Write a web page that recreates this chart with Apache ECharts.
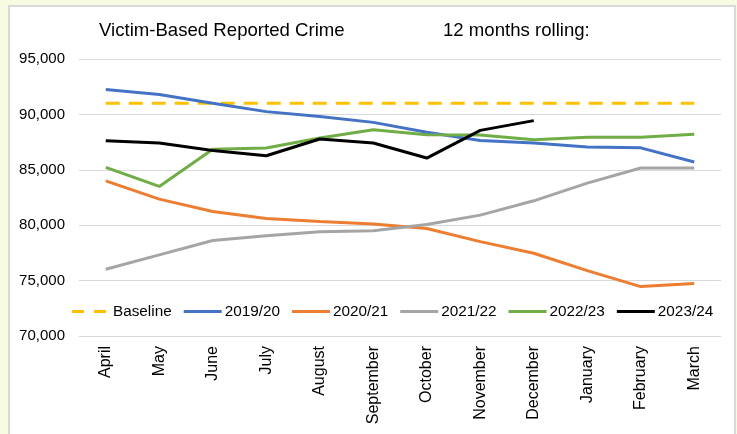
<!DOCTYPE html>
<html><head><meta charset="utf-8">
<script src="https://cdn.jsdelivr.net/npm/echarts@6/dist/echarts.min.js"></script>
<style>html,body{margin:0;padding:0;background:#F6FBE2;}#c{width:737px;height:434px;}</style>
</head><body><div id="c"></div>
<script>
const months = ['April','May','June','July','August','September','October','November','December','January','February','March'];
const baseline = [91000,91000,91000,91000,91000,91000,91000,91000,91000,91000,91000,91000];
const y2019 = [92240,91790,91000,90250,89820,89280,88380,87650,87420,87050,86980,85700];
const y2020 = [84000,82350,81240,80600,80330,80100,79700,78520,77470,75900,74460,74730];
const y2021 = [76030,77320,78620,79040,79400,79500,80060,80910,82200,83800,85160,85160];
const y2022 = [85220,83500,86850,86970,87870,88620,88170,88150,87720,87930,87930,88200];
const y2023 = [87630,87420,86750,86270,87780,87420,86060,88560,89440];
const seriesNames = ['Baseline','2019/20','2020/21','2021/22','2022/23','2023/24'];

const FONT = 'Liberation Sans, Arial, sans-serif';
const chart = echarts.init(document.getElementById('c'));
function mk(name, data, color, dashed){
  return {name, type:'line', data, symbol:'none', smooth:false,
    lineStyle:{color, width:3, type: dashed ? [14,9] : 'solid', cap:'butt'},
    itemStyle:{color}, z: dashed?1:2};
}
const dashIcon = 'path://M0,0H12V3H0Z M22,0H34V3H22Z M38,0H38.01V3H38Z';
chart.setOption({
  backgroundColor:'#F6FBE2',
  animation:false,
  textStyle:{fontFamily:FONT},
  graphic:[
    {type:'rect', shape:{x:9,y:6,width:726,height:440}, style:{fill:'#FFFFFF', stroke:'#D9D9D9', lineWidth:2}, z:-10},
    {type:'text', left:99, top:21, style:{text:'Victim-Based Reported Crime', font:'18.6px '+FONT, fill:'#000'}},
    {type:'text', left:443, top:21, style:{text:'12 months rolling:', font:'18.6px '+FONT, fill:'#000'}}
  ],
  grid:{left:79, right:16, top:59, bottom:98},
  legend:{left:72, top:304, padding:0, itemWidth:38, itemHeight:3, itemGap:12,
    textStyle:{fontSize:15.3, color:'#000', fontFamily:FONT, padding:[0,0,0,-2]},
    data:seriesNames.map((n,i)=>({name:n, icon: i===0 ? dashIcon : 'rect'}))},
  xAxis:{type:'category', data:months, boundaryGap:true,
    axisLine:{lineStyle:{color:'#D9D9D9', width:1}}, axisTick:{show:false},
    axisLabel:{rotate:90, fontSize:16, color:'#000', margin:10, interval:0, fontFamily:FONT}},
  yAxis:{type:'value', min:70000, max:95000, interval:5000,
    axisLine:{show:false}, axisTick:{show:false},
    splitLine:{lineStyle:{color:'#D9D9D9', width:1}},
    axisLabel:{fontSize:15, color:'#000', margin:14, fontFamily:FONT,
      formatter: v => v.toLocaleString('en-US')}},
  series:[
    mk(seriesNames[0], baseline, '#FFC000', true),
    mk(seriesNames[1], y2019, '#4472C4'),
    mk(seriesNames[2], y2020, '#ED7D31'),
    mk(seriesNames[3], y2021, '#A5A5A5'),
    mk(seriesNames[4], y2022, '#70AD47'),
    mk(seriesNames[5], y2023, '#000000')
  ]
});
</script></body></html>
